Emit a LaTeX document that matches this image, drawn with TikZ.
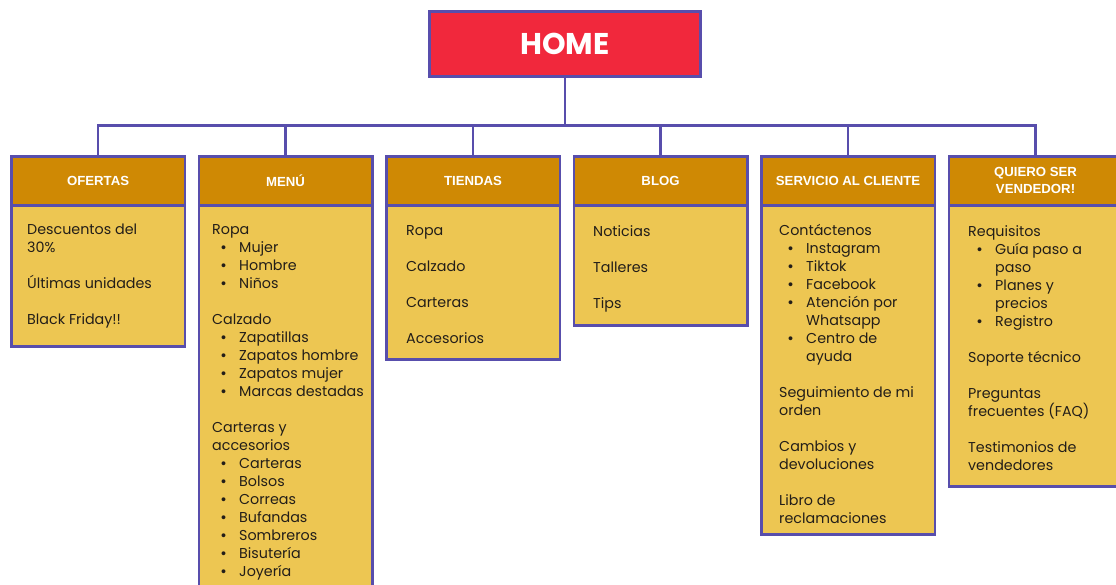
\documentclass[tikz,border=0pt]{standalone}
\usepackage{fontspec}
\setmainfont{Poppins}
\newfontfamily\headfont{Liberation Sans}
\newfontfamily\homefont{Poppins}
\definecolor{edge}{RGB}{88,78,172}
\definecolor{homered}{RGB}{241,40,60}
\definecolor{hdrfill}{RGB}{207,137,4}
\definecolor{bodyfill}{RGB}{237,198,82}
\definecolor{ink}{RGB}{35,30,25}
\newcommand{\bl}[1]{\makebox[27pt][l]{\hspace*{9pt}{\headfont\textbullet}}#1}
\newcommand{\bc}[1]{\hspace*{27pt}#1}
\newcommand{\btext}[1]{\parbox[t]{165pt}{\raggedright\fontsize{14.3}{18}\selectfont\strut #1}}
\begin{document}
\begin{tikzpicture}[x=1pt,y=-1pt,
  boxline/.style={draw=edge, line width=2.6pt},
  homebox/.style={boxline, fill=homered, minimum width=271pt, minimum height=65pt, inner sep=0pt, text=white, font=\homefont\bfseries\fontsize{30}{30}\selectfont},
  hdr/.style={boxline, fill=hdrfill, minimum width=173.5pt, minimum height=49pt, inner sep=0pt, anchor=north west},
  hdrtext/.style={text=white, font=\headfont\bfseries\fontsize{13.2}{17}\selectfont, align=center, inner sep=0pt},
  bodybox/.style={boxline, fill=bodyfill, minimum width=173.5pt, minimum height=#1, inner sep=0pt, anchor=north west},
  items/.style={anchor=north west, inner sep=0pt, text=ink},
  conn/.style={draw=edge, line width=2.6pt, line join=miter}
]
\useasboundingbox (0,0) rectangle (1116,585);

\node[homebox] (home) at (565,44) {HOME};

% bodies
\node[bodybox=141pt] (b1) at (10,204) {};
\node[bodybox=391pt] (b2) at (197.5,204) {};
\node[bodybox=154pt] (b3) at (385,204) {};
\node[bodybox=120pt] (b4) at (572.5,204) {};
\node[bodybox=329pt] (b5) at (760,204) {};
\node[bodybox=281pt] (b6) at (947.5,204) {};

% headers
\node[hdr] (h1) at (10,155) {};
\node[hdr] (h2) at (197.5,155) {};
\node[hdr] (h3) at (385,155) {};
\node[hdr] (h4) at (572.5,155) {};
\node[hdr] (h5) at (760,155) {};
\node[hdr] (h6) at (947.5,155) {};

\node[hdrtext] (l1) at (h1.center) {OFERTAS};
\node[hdrtext] (l2) at (h2.center) {MENÚ};
\node[hdrtext] (l3) at (h3.center) {TIENDAS};
\node[hdrtext] (l4) at (h4.center) {BLOG};
\node[hdrtext] (l5) at (h5.center) {SERVICIO AL CLIENTE};
\node[hdrtext] (l6) at (h6.center) {QUIERO SER\\VENDEDOR!};

% connectors
\coordinate (bus) at (565,125.5);
\draw[conn] (home.south) -- (home.south |- bus);
\draw[conn] (h1.north) |- (h6.north |- bus) -- (h6.north);
\draw[conn] (h2.north) -- (h2.north |- bus);
\draw[conn] (h3.north) -- (h3.north |- bus);
\draw[conn] (h4.north) -- (h4.north |- bus);
\draw[conn] (h5.north) -- (h5.north |- bus);

% texts
\node[items] (t1) at (27,221.4) {\btext{Descuentos del\\30\%\\[18pt]Últimas unidades\\[18pt]Black Friday!!}};
\node[items] (t2) at (212,221.9) {\btext{Ropa\\\bl{Mujer}\\\bl{Hombre}\\\bl{Niños}\\[18pt]Calzado\\\bl{Zapatillas}\\\bl{Zapatos hombre}\\\bl{Zapatos mujer}\\\bl{Marcas destadas}\\[18pt]Carteras y\\accesorios\\\bl{Carteras}\\\bl{Bolsos}\\\bl{Correas}\\\bl{Bufandas}\\\bl{Sombreros}\\\bl{Bisutería}\\\bl{Joyería}}};
\node[items] (t3) at (406,222.4) {\btext{Ropa\\[18pt]Calzado\\[18pt]Carteras\\[18pt]Accesorios}};
\node[items] (t4) at (593,223.9) {\btext{Noticias\\[18pt]Talleres\\[18pt]Tips}};
\node[items] (t5) at (779,222.4) {\btext{Contáctenos\\\bl{Instagram}\\\bl{Tiktok}\\\bl{Facebook}\\\bl{Atención por}\\\bc{Whatsapp}\\\bl{Centro de}\\\bc{ayuda}\\[18pt]Seguimiento de mi\\orden\\[18pt]Cambios y\\devoluciones\\[18pt]Libro de\\reclamaciones}};
\node[items] (t6) at (968,223.4) {\btext{Requisitos\\\bl{Guía paso a}\\\bc{paso}\\\bl{Planes y}\\\bc{precios}\\\bl{Registro}\\[18pt]Soporte técnico\\[18pt]Preguntas\\frecuentes (FAQ)\\[18pt]Testimonios de\\vendedores}};
\end{tikzpicture}
\end{document}
